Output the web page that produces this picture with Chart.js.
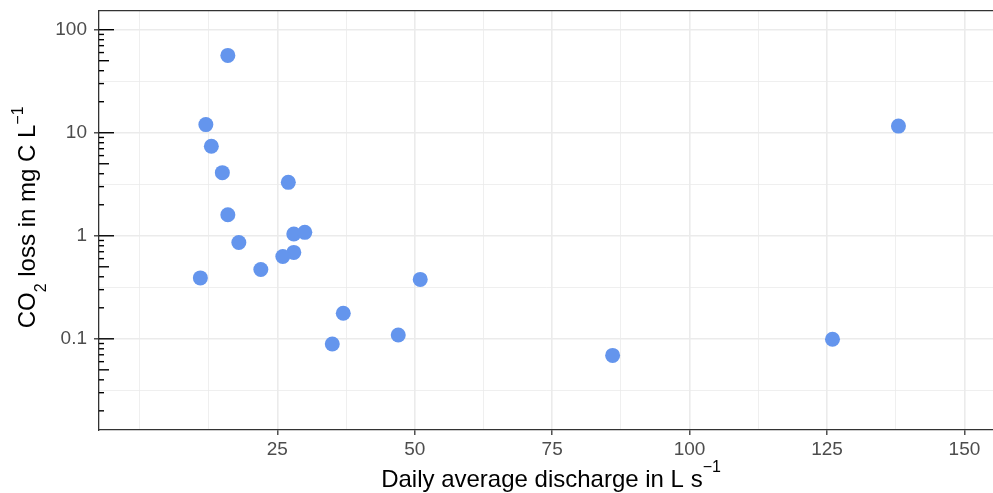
<!DOCTYPE html>
<html lang="en">
<head>
<meta charset="UTF-8">
<title>CO2 loss vs discharge</title>
<script src="https://cdn.jsdelivr.net/npm/chart.js"></script>
<style>
  html, body { margin: 0; padding: 0; background: #fff; }
  #wrap { width: 993px; height: 493px; position: relative; }
</style>
</head>
<body>
<div id="wrap"><canvas id="co2Chart"></canvas></div>
<script>
// values
const discharge = [16, 12, 13, 15, 27, 16, 18, 28, 30, 28, 26, 22, 11, 51, 37, 47, 35, 86, 126, 138];
const co2Loss   = [56.3, 12, 7.4, 4.1, 3.3, 1.6, 0.86, 1.04, 1.08, 0.69, 0.63, 0.47, 0.39, 0.377, 0.177, 0.109, 0.089, 0.069, 0.099, 11.6];

const xMajorTicks = [25, 50, 75, 100, 125, 150];
const xMinorTicks = [0, 12.5, 37.5, 62.5, 87.5, 112.5, 137.5];
const yMajorTicks = [0.1, 1, 10, 100];
const yTickLabels = ['0.1', '1', '10', '100'];
const yMinorTicks = [0.0316, 0.316, 3.16, 31.6];
const logDecades  = [0.01, 0.1, 1, 10, 100];
const logSteps    = [1, 2, 3, 4, 5, 6, 7, 8, 9];

const FONT = '"Liberation Sans", Helvetica, Arial, sans-serif';

const points = discharge.map((d, i) => ({ x: d, y: co2Loss[i] }));

function isMajorX(v) { return xMajorTicks.includes(v); }
function majorYIndex(v) { return yMajorTicks.findIndex(m => Math.abs(m - v) / m < 1e-6); }

// no extra room for the end labels, the panel fills the canvas
function noScalePadding(s) {
  s.paddingTop = 0;
  s.paddingBottom = 0;
  s.paddingLeft = 0;
  s.paddingRight = 0;
}

// draws a string made of pieces with their own size and baseline shift
function drawPieces(ctx, pieces, cx, baseY) {
  let total = 0;
  pieces.forEach(p => {
    ctx.font = p.size + 'px ' + FONT;
    p.w = ctx.measureText(p.t).width;
    total += p.w;
  });
  let x = cx - total / 2;
  pieces.forEach(p => {
    ctx.font = p.size + 'px ' + FONT;
    ctx.fillText(p.t, x, baseY + p.dy);
    x += p.w;
  });
}

const decorPlugin = {
  id: 'decor',
  afterDraw(chart) {
    const ctx = chart.ctx;
    const area = chart.chartArea;
    const y = chart.scales.y;

    ctx.save();
    // top border of the panel
    ctx.strokeStyle = '#333';
    ctx.lineWidth = 1.3;
    ctx.beginPath();
    ctx.moveTo(area.left, area.top);
    ctx.lineTo(area.right, area.top);
    ctx.stroke();

    // log ticks on the left side
    ctx.strokeStyle = '#000';
    ctx.lineWidth = 1.4;
    logDecades.forEach(d => {
      logSteps.forEach(s => {
        const v = d * s;
        if (v < y.min || v > y.max) return;
        const len = s === 1 ? 15 : (s === 5 ? 10 : 5);
        const py = y.getPixelForValue(v);
        ctx.beginPath();
        ctx.moveTo(area.left, py);
        ctx.lineTo(area.left + len, py);
        ctx.stroke();
      });
    });

    // axis titles
    ctx.fillStyle = '#000';
    ctx.textBaseline = 'alphabetic';
    ctx.textAlign = 'left';
    drawPieces(ctx, [
      { t: 'Daily average discharge in L s', size: 24, dy: 0 },
      { t: '\u22121', size: 16, dy: -15 }
    ], (area.left + area.right) / 2 + 5, 487);

    ctx.translate(34.5, (area.top + area.bottom) / 2 - 3);
    ctx.rotate(-Math.PI / 2);
    drawPieces(ctx, [
      { t: 'CO', size: 24, dy: 0 },
      { t: '2', size: 16, dy: 11 },
      { t: ' loss in mg C L', size: 24, dy: 0 },
      { t: '\u22121', size: 16, dy: -12 }
    ], 0, 0);
    ctx.restore();
  }
};

new Chart(document.getElementById('co2Chart'), {
  type: 'scatter',
  data: {
    datasets: [{
      data: points,
      backgroundColor: '#6495ED',
      borderWidth: 0,
      pointRadius: 7.5,
      pointHoverRadius: 7.5
    }]
  },
  options: {
    responsive: true,
    maintainAspectRatio: false,
    animation: false,
    layout: { autoPadding: false, padding: { top: 10.7, right: 0, bottom: 0, left: 0 } },
    plugins: { legend: { display: false }, tooltip: { enabled: false } },
    scales: {
      x: {
        type: 'linear',
        min: -7.44,
        max: 155.2,
        afterBuildTicks: s => {
          s.ticks = xMinorTicks.concat(xMajorTicks).sort((a, b) => a - b).map(v => ({ value: v }));
        },
        afterFit: s => { s.height = 63; noScalePadding(s); },
        grid: {
          color: '#ebebeb',
          lineWidth: c => (c.tick && isMajorX(c.tick.value)) ? 1.6 : 0.8,
          tickLength: 5,
          tickWidth: 1.3,
          tickColor: c => (c.tick && isMajorX(c.tick.value)) ? '#333' : 'rgba(0,0,0,0)'
        },
        border: { color: '#333', width: 1.3 },
        ticks: {
          autoSkip: false,
          maxRotation: 0,
          padding: 3,
          color: '#4d4d4d',
          font: { size: 19, family: FONT },
          callback: v => isMajorX(v) ? String(v) : ''
        }
      },
      y: {
        type: 'logarithmic',
        min: 0.01303,
        max: 152.9,
        afterBuildTicks: s => {
          s.ticks = yMinorTicks.concat(yMajorTicks).sort((a, b) => a - b).map(v => ({ value: v }));
        },
        afterFit: s => { s.width = 99; noScalePadding(s); },
        grid: {
          color: '#ebebeb',
          lineWidth: c => (c.tick && majorYIndex(c.tick.value) >= 0) ? 1.6 : 0.8,
          tickLength: 5,
          tickWidth: 1.3,
          tickColor: c => (c.tick && majorYIndex(c.tick.value) >= 0) ? '#333' : 'rgba(0,0,0,0)'
        },
        border: { color: '#333', width: 1.3 },
        ticks: {
          autoSkip: false,
          padding: 7,
          color: '#4d4d4d',
          font: { size: 19, family: FONT },
          callback: v => {
            const i = majorYIndex(v);
            return i >= 0 ? yTickLabels[i] : '';
          }
        }
      }
    }
  },
  plugins: [decorPlugin]
});
</script>
</body>
</html>
